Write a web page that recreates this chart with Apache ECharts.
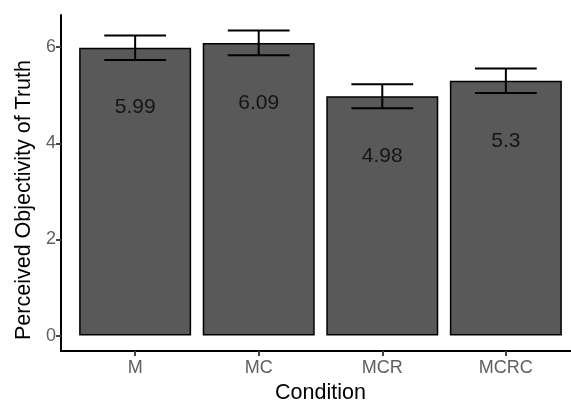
<!DOCTYPE html>
<html>
<head>
<meta charset="utf-8">
<script src="https://cdn.jsdelivr.net/npm/echarts@6/dist/echarts.min.js"></script>
<style>
html,body{margin:0;padding:0;background:#fff;overflow:hidden;}
#c{width:571px;height:401px;}
</style>
</head>
<body>
<div id="c"></div>
<script>
const categories = ['M', 'MC', 'MCR', 'MCRC'];
const means = [5.99, 6.09, 4.98, 5.3];
const se = [0.255, 0.255, 0.25, 0.255];
const yTicks = [0, 2, 4, 6];

const xPos = categories.map((c, i) => i + 1);
const barData = means.map((m, i) => [xPos[i], m]);
const errData = means.map((m, i) => [xPos[i], m - se[i], m + se[i]]);

const chart = echarts.init(document.getElementById('c'), null, {renderer: 'canvas'});
const font = 'Liberation Sans, Arial, sans-serif';
chart.setOption({
  animation: false,
  backgroundColor: '#fff',
  grid: {left: 61, top: 15, width: 519, height: 336, containLabel: false, outerBoundsMode: 'none'},
  xAxis: {
    type: 'value', min: 0.4, max: 4.6,
    name: 'Condition', nameLocation: 'middle', nameGap: 30.5,
    nameTextStyle: {fontFamily: font, fontSize: 21.5, color: '#000'},
    splitLine: {show: false},
    axisLine: {show: true, onZero: false, lineStyle: {color: '#000', width: 2}},
    axisTick: {show: true, customValues: xPos, length: 5, lineStyle: {color: '#444', width: 2}},
    axisLabel: {customValues: xPos, margin: 8, fontFamily: font, fontSize: 18, color: '#606060',
      formatter: v => categories[Math.round(v) - 1] || ''}
  },
  yAxis: {
    type: 'value', min: -0.32, max: 6.67,
    name: 'Perceived Objectivity of Truth', nameLocation: 'middle', nameGap: 26,
    nameTextStyle: {fontFamily: font, fontSize: 21.5, color: '#000', padding: [0, 34, 0, 0]},
    splitLine: {show: false},
    axisLine: {show: true, onZero: false, lineStyle: {color: '#000', width: 2}},
    axisTick: {show: true, customValues: yTicks, length: 5, lineStyle: {color: '#444', width: 2}},
    axisLabel: {customValues: yTicks, margin: 5, fontFamily: font, fontSize: 18, color: '#606060'}
  },
  series: [
    {
      type: 'bar', data: barData, barWidth: 112,
      itemStyle: {color: '#595959', borderColor: '#000', borderWidth: 1.5},
      label: {show: true, position: ['50%', 60], align: 'center', verticalAlign: 'middle',
        fontFamily: font, fontSize: 21, color: '#151515',
        formatter: p => String(means[p.dataIndex])}
    },
    {
      type: 'custom', data: errData, z: 10,
      renderItem: (params, api) => {
        const x = api.value(0);
        const lo = api.coord([x, api.value(1)]);
        const hi = api.coord([x, api.value(2)]);
        const hw = api.size([0.5, 0])[0] / 2;
        const style = {stroke: '#000', lineWidth: 2};
        return {type: 'group', children: [
          {type: 'line', shape: {x1: lo[0], y1: lo[1], x2: hi[0], y2: hi[1]}, style},
          {type: 'line', shape: {x1: lo[0] - hw, y1: lo[1], x2: lo[0] + hw, y2: lo[1]}, style},
          {type: 'line', shape: {x1: hi[0] - hw, y1: hi[1], x2: hi[0] + hw, y2: hi[1]}, style}
        ]};
      }
    }
  ]
});
</script>
</body>
</html>
